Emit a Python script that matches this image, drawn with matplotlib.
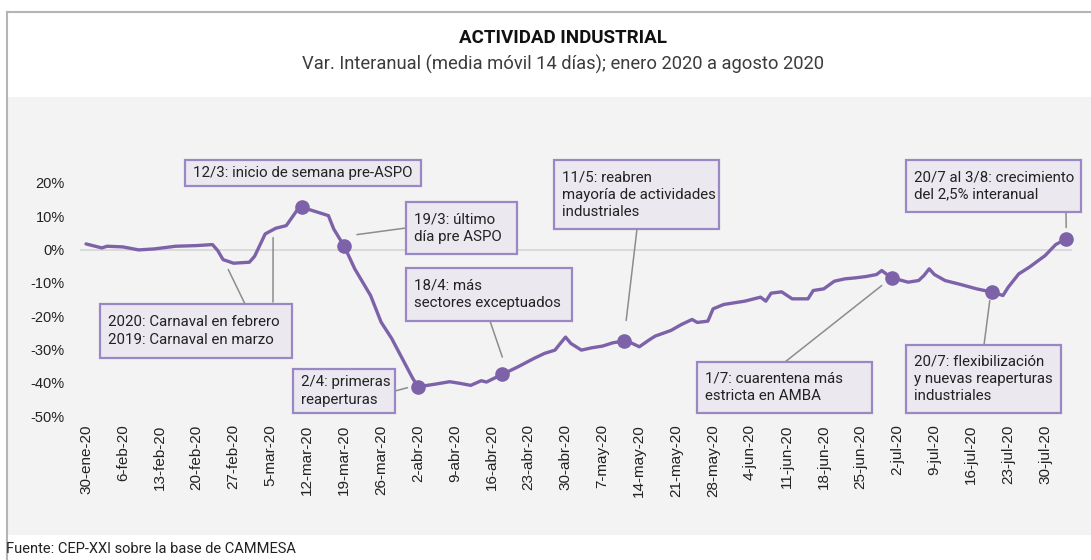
import numpy as np
import pandas as pd
import matplotlib
matplotlib.use("Agg")
from matplotlib import pyplot as plt
import matplotlib.dates as mdates
from matplotlib.patches import Rectangle, ConnectionPatch
from matplotlib.lines import Line2D
from matplotlib.transforms import IdentityTransform

# datos (var. interanual %, media movil 14 dias)
fechas = ["2020-01-30", "2020-02-02", "2020-02-03", "2020-02-06", "2020-02-09",
          "2020-02-12", "2020-02-16", "2020-02-20", "2020-02-23", "2020-02-24",
          "2020-02-25", "2020-02-27", "2020-03-01", "2020-03-02", "2020-03-04",
          "2020-03-06", "2020-03-08", "2020-03-10", "2020-03-11", "2020-03-13",
          "2020-03-16", "2020-03-17", "2020-03-19", "2020-03-21", "2020-03-24",
          "2020-03-26", "2020-03-28", "2020-03-30", "2020-04-01", "2020-04-02",
          "2020-04-05", "2020-04-08", "2020-04-10", "2020-04-12", "2020-04-14",
          "2020-04-15", "2020-04-16", "2020-04-18", "2020-04-21", "2020-04-24",
          "2020-04-26", "2020-04-28", "2020-04-29", "2020-04-30", "2020-05-01",
          "2020-05-03", "2020-05-05", "2020-05-07", "2020-05-09", "2020-05-11",
          "2020-05-12", "2020-05-14", "2020-05-16", "2020-05-17", "2020-05-20",
          "2020-05-22", "2020-05-24", "2020-05-25", "2020-05-27", "2020-05-28",
          "2020-05-30", "2020-06-01", "2020-06-03", "2020-06-06", "2020-06-07",
          "2020-06-08", "2020-06-10", "2020-06-12", "2020-06-15", "2020-06-16",
          "2020-06-18", "2020-06-20", "2020-06-22", "2020-06-24", "2020-06-26",
          "2020-06-28", "2020-06-29", "2020-06-30", "2020-07-01", "2020-07-04",
          "2020-07-06", "2020-07-07", "2020-07-08", "2020-07-09", "2020-07-11",
          "2020-07-14", "2020-07-17", "2020-07-20", "2020-07-22", "2020-07-23",
          "2020-07-25", "2020-07-27", "2020-07-30", "2020-08-01", "2020-08-03"]
valores = [1.7, 0.5, 1.0, 0.8, -0.1,
           0.2, 1.0, 1.2, 1.5, -0.3,
           -3.0, -4.1, -3.8, -2.0, 4.7,
           6.4, 7.2, 11.7, 12.7, 11.7,
           10.2, 6.2, 1.0, -5.8, -13.8,
           -21.8, -26.7, -32.7, -38.7, -41.2,
           -40.5, -39.7, -40.2, -40.8, -39.4,
           -39.8, -39.0, -37.5, -35.2, -32.7,
           -31.2, -30.2, -28.2, -26.3, -28.2,
           -30.2, -29.5, -29.0, -28.0, -27.5,
           -27.7, -29.2, -27.0, -26.0, -24.3,
           -22.5, -21.0, -21.9, -21.5, -17.8,
           -16.5, -16.0, -15.5, -14.3, -15.5,
           -13.1, -12.7, -14.8, -14.8, -12.3,
           -11.8, -9.5, -8.8, -8.5, -8.1,
           -7.5, -6.3, -7.5, -8.5, -9.8,
           -9.3, -7.8, -5.8, -7.5, -9.3,
           -10.5, -11.8, -12.8, -13.8, -11.3,
           -7.3, -5.3, -1.8, 1.5, 3.2]
hitos = ["2020-03-11", "2020-03-19", "2020-04-02", "2020-04-18",
         "2020-05-11", "2020-07-01", "2020-07-20", "2020-08-03"]

ticks_x = pd.date_range("2020-01-30", "2020-07-30", freq="7D")
etiquetas_x = ["30-ene-20", "6-feb-20", "13-feb-20", "20-feb-20", "27-feb-20",
               "5-mar-20", "12-mar-20", "19-mar-20", "26-mar-20", "2-abr-20",
               "9-abr-20", "16-abr-20", "23-abr-20", "30-abr-20", "7-may-20",
               "14-may-20", "21-may-20", "28-may-20", "4-jun-20", "11-jun-20",
               "18-jun-20", "25-jun-20", "2-jul-20", "9-jul-20", "16-jul-20",
               "23-jul-20", "30-jul-20"]
ticks_y = [20, 10, 0, -10, -20, -30, -40, -50]

PURPURA = "#7d62a9"
W, H = 1091, 560

serie = pd.Series(valores, index=pd.to_datetime(fechas))
hitos_dt = pd.to_datetime(hitos)

fig = plt.figure(figsize=(W / 100, H / 100), dpi=100)
px = IdentityTransform()

# fondo gris del panel y borde exterior
fig.add_artist(Rectangle((8, H - 535), W, 535 - 97, transform=px,
                         facecolor="#f3f3f3", edgecolor="none", zorder=0))
fig.add_artist(Line2D([7, W], [H - 12, H - 12], transform=px, color="#b5b5b5", lw=1.5))
fig.add_artist(Line2D([7, 7], [0, H - 12], transform=px, color="#b5b5b5", lw=1.5))

fig.text(563, H - 38, "ACTIVIDAD INDUSTRIAL", transform=px, ha="center", va="center",
         fontsize=13.5, fontweight="bold", family="Roboto", color="#111111")
fig.text(563, H - 64, "Var. Interanual (media móvil 14 días); enero 2020 a agosto 2020",
         transform=px, ha="center", va="center", fontsize=13.2, family="Roboto",
         color="#3c3c3c")
fig.text(6, H - 549, "Fuente: CEP-XXI sobre la base de CAMMESA", transform=px,
         ha="left", va="center", fontsize=10.5, family="Roboto", color="#222222")

ax = fig.add_axes([80 / W, (H - 416) / H, (1072 - 80) / W, (416 - 183) / H])
ax.set_facecolor("none")
for s in ax.spines.values():
    s.set_visible(False)

ax.axhline(0, color="#d6d6d6", lw=1.2, zorder=1)
ax.plot(serie.index, serie.values, color=PURPURA, lw=2.4, zorder=3,
        solid_joinstyle="round", solid_capstyle="round", clip_on=False)
ax.plot(hitos_dt, serie.loc[hitos_dt].values, "o", ms=9.5, color=PURPURA,
        zorder=4, clip_on=False)

x0 = mdates.date2num(pd.Timestamp("2020-01-30"))
ax.set_xlim(x0 - 1.14, x0 + 187.1)
ax.set_ylim(-50, 20)
ax.set_xticks(ticks_x)
ax.set_xticklabels(etiquetas_x, rotation=90, family="Liberation Sans",
                   fontsize=11, color="#222222")
ax.set_yticks(ticks_y)
ax.set_yticklabels([f"{v}%" for v in ticks_y], family="Liberation Sans",
                   fontsize=10.5, color="#222222")
ax.tick_params(axis="x", length=0, pad=6)
ax.tick_params(axis="y", length=0, pad=11)


def caja(x0p, y0p, x1p, y1p, texto):
    fig.add_artist(Rectangle((x0p, H - y1p), x1p - x0p, y1p - y0p, transform=px,
                             facecolor="#ebe8f0", edgecolor="#9a88c4", lw=1.6,
                             zorder=5))
    fig.text(x0p + 8, H - (y0p + y1p) / 2, texto, transform=px, ha="left",
             va="center", fontsize=10.8, family="Roboto", color="#222222",
             linespacing=1.28, zorder=6)


def guia(fecha, valor, xp, yp):
    fig.add_artist(ConnectionPatch(
        xyA=(mdates.date2num(pd.Timestamp(fecha)), valor), coordsA=ax.transData,
        xyB=(xp, H - yp), coordsB="figure pixels", color="#8c8c8c", lw=1.1,
        zorder=2))


caja(185, 160, 421, 186, "12/3: inicio de semana pre-ASPO")
caja(100, 304, 292, 358, "2020: Carnaval en febrero\n2019: Carnaval en marzo")
guia("2020-02-26", -6.0, 245, 304)
guia("2020-03-05 12:00", 3.6, 273, 302)
caja(406, 202, 517, 254, "19/3: último\ndía pre ASPO")
guia("2020-03-21 10:00", 4.5, 406, 228)
caja(293, 369, 395, 413, "2/4: primeras\nreaperturas")
guia("2020-03-31", -41.5, 395, 391)
caja(406, 268, 572, 321, "18/4: más\nsectores exceptuados")
guia("2020-04-18", -32.3, 490, 321)
caja(554, 160, 719, 229, "11/5: reabren\nmayoría de actividades\nindustriales")
guia("2020-05-11 12:00", -21.3, 637, 229)
caja(697, 362, 872, 413, "1/7: cuarentena más\nestricta en AMBA")
guia("2020-06-29", -10.8, 785, 362)
caja(906, 345, 1061, 413, "20/7: flexibilización\ny nuevas reaperturas\nindustriales")
guia("2020-07-19 12:00", -15.3, 984, 345)
caja(906, 160, 1081, 212, "20/7 al 3/8: crecimiento\ndel 2,5% interanual")
guia("2020-08-03", 6.6, 1066, 212)

fig.savefig("out.png", dpi=100)
